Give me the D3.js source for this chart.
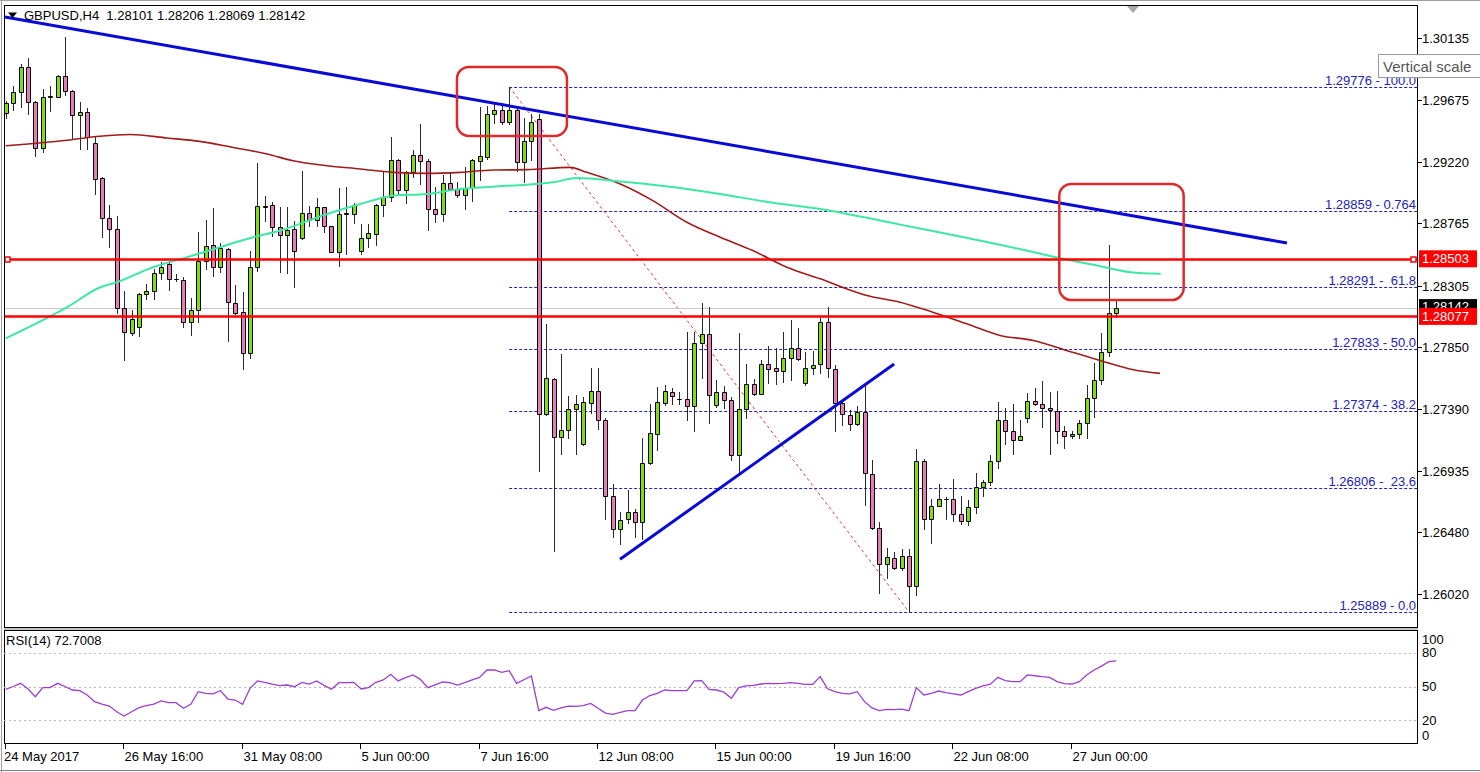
<!DOCTYPE html>
<html><head><meta charset="utf-8">
<script src="https://cdn.jsdelivr.net/npm/d3@7"></script>
<style>html,body{margin:0;padding:0;background:#fff;overflow:hidden}
svg{display:block;font-family:"Liberation Sans",Arial,sans-serif}</style>
</head><body><svg id="c" width="1480" height="772"></svg>
<script>
// ---------- DATA ----------
const open=[1.29579,1.29653,1.29739,1.29919,1.29660,1.29320,1.29702,1.29702,1.29857,1.29746,
1.29567,1.29591,1.29360,1.29098,1.28803,1.28724,1.28138,1.27953,1.28002,1.28239,
1.28268,1.28396,1.28461,1.28355,1.28348,1.28039,1.28126,1.28490,1.28608,1.28441,
1.28577,1.28178,1.28108,1.27808,1.28446,1.28889,1.28902,1.28741,1.28682,1.28724,
1.28658,1.28843,1.28791,1.28884,1.28744,1.28557,1.28838,1.28835,1.28564,1.28655,
1.28687,1.28902,1.28963,1.29236,1.29013,1.29143,1.29271,1.29229,1.28872,1.28835,
1.29064,1.29020,1.28976,1.29027,1.29229,1.29254,1.29574,1.29604,1.29512,1.29604,
1.29222,1.29372,1.29537,1.27357,1.27616,1.27184,1.27239,1.27394,1.27130,1.27436,
1.27524,1.27308,1.26746,1.26500,1.26581,1.26630,1.26556,1.26992,1.27210,1.27436,
1.27517,1.27468,1.27468,1.27411,1.27879,1.27943,1.27419,1.27517,1.27461,1.27049,
1.27394,1.27574,1.27505,1.27727,1.27697,1.27672,1.27771,1.27845,1.27583,1.27697,
1.27722,1.28034,1.27690,1.27436,1.27345,1.27278,1.27369,1.26914,1.26507,1.26241,
1.26290,1.26212,1.26303,1.26081,1.27005,1.26581,1.26674,1.26729,1.26724,1.26618,
1.26564,1.26663,1.26815,1.26852,1.27005,1.27308,1.27229,1.27165,1.27328,1.27450,
1.27426,1.27399,1.27377,1.27229,1.27192,1.27210,1.27288,1.27476,1.27609,1.27812,
1.28101];
const high=[1.29673,1.29783,1.29948,1.29988,1.29673,1.29763,1.29783,1.29860,1.30146,1.29750,
1.29660,1.29619,1.29401,1.29106,1.28902,1.28823,1.28268,1.28121,1.28250,1.28313,
1.28429,1.28478,1.28490,1.28392,1.28367,1.28212,1.28704,1.28793,1.28880,1.28618,
1.28585,1.28311,1.28256,1.28564,1.29209,1.28970,1.28921,1.28889,1.28889,1.28786,
1.29155,1.28897,1.28954,1.28890,1.28748,1.29027,1.29037,1.28914,1.28761,1.28761,
1.28906,1.29155,1.29406,1.29241,1.29155,1.29310,1.29500,1.29241,1.29032,1.29123,
1.29138,1.29069,1.29185,1.29240,1.29628,1.29636,1.29660,1.29653,1.29776,1.29636,
1.29545,1.29574,1.29574,1.28022,1.27623,1.27801,1.27485,1.27492,1.27480,1.27697,
1.27697,1.27328,1.26840,1.26630,1.26790,1.26655,1.27180,1.27431,1.27554,1.27566,
1.27550,1.27517,1.27960,1.27960,1.28175,1.28145,1.27603,1.27559,1.27480,1.27953,
1.27722,1.27616,1.27751,1.27855,1.27845,1.27960,1.28052,1.27993,1.27812,1.27821,
1.28065,1.28150,1.27714,1.27440,1.27382,1.27411,1.27559,1.27012,1.26556,1.26364,
1.26334,1.26352,1.26352,1.27099,1.27025,1.26729,1.26833,1.26742,1.26870,1.26746,
1.26716,1.26918,1.26864,1.27049,1.27443,1.27402,1.27431,1.27313,1.27510,1.27550,
1.27598,1.27517,1.27524,1.27266,1.27229,1.27308,1.27566,1.27731,1.27953,1.28608,
1.28206];
const low=[1.29547,1.29604,1.29623,1.29574,1.29266,1.29290,1.29599,1.29697,1.29717,1.29390,
1.29316,1.29316,1.28983,1.28662,1.28594,1.28101,1.27751,1.27936,1.27929,1.28207,
1.28207,1.28355,1.28274,1.28337,1.28002,1.27941,1.28039,1.28429,1.28379,1.28404,
1.27894,1.28098,1.27690,1.27771,1.28411,1.28786,1.28675,1.28404,1.28396,1.28298,
1.28651,1.28749,1.28749,1.28699,1.28550,1.28453,1.28540,1.28766,1.28540,1.28588,
1.28608,1.28823,1.28934,1.28983,1.28917,1.29106,1.29057,1.28717,1.28773,1.28786,
1.29012,1.28958,1.28872,1.28934,1.29087,1.29245,1.29505,1.29500,1.29500,1.29155,
1.29074,1.29234,1.26933,1.27350,1.26342,1.27062,1.27180,1.27062,1.27123,1.27362,
1.27246,1.26581,1.26441,1.26391,1.26544,1.26441,1.26426,1.26983,1.27086,1.27419,
1.27431,1.27431,1.27308,1.27229,1.27623,1.27288,1.27406,1.27401,1.27017,1.26914,
1.27328,1.27498,1.27500,1.27583,1.27574,1.27591,1.27603,1.27751,1.27566,1.27648,
1.27659,1.27628,1.27229,1.27271,1.27234,1.27271,1.26680,1.26500,1.26027,1.26138,
1.26205,1.26200,1.25889,1.26015,1.26500,1.26401,1.26670,1.26574,1.26564,1.26539,
1.26532,1.26623,1.26746,1.26827,1.26955,1.27136,1.27056,1.27160,1.27295,1.27419,
1.27258,1.27062,1.27140,1.27106,1.27180,1.27178,1.27180,1.27332,1.27579,1.27781,
1.28069];
const close=[1.29653,1.29739,1.29919,1.29660,1.29320,1.29697,1.29705,1.29857,1.29746,1.29567,
1.29591,1.29401,1.29094,1.28803,1.28724,1.28138,1.27960,1.28059,1.28244,1.28268,
1.28396,1.28441,1.28355,1.28352,1.28039,1.28126,1.28490,1.28601,1.28441,1.28581,
1.28182,1.28104,1.27808,1.28446,1.28897,1.28892,1.28739,1.28682,1.28719,1.28559,
1.28843,1.28793,1.28884,1.28744,1.28557,1.28835,1.28842,1.28902,1.28655,1.28692,
1.28904,1.28963,1.29236,1.29013,1.29143,1.29274,1.29229,1.28872,1.28835,1.29064,
1.29020,1.28976,1.29027,1.29234,1.29261,1.29574,1.29604,1.29512,1.29604,1.29222,
1.29372,1.29512,1.27357,1.27623,1.27184,1.27239,1.27394,1.27431,1.27443,1.27524,
1.27308,1.26746,1.26500,1.26569,1.26630,1.26556,1.26992,1.27214,1.27443,1.27524,
1.27485,1.27466,1.27411,1.27879,1.27943,1.27493,1.27517,1.27461,1.27049,1.27394,
1.27574,1.27505,1.27727,1.27690,1.27672,1.27771,1.27845,1.27764,1.27697,1.27718,
1.28034,1.27694,1.27436,1.27357,1.27278,1.27369,1.26918,1.26507,1.26241,1.26297,
1.26212,1.26303,1.26081,1.27005,1.26581,1.26674,1.26729,1.26726,1.26618,1.26564,
1.26663,1.26815,1.26852,1.27005,1.27313,1.27229,1.27165,1.27190,1.27450,1.27426,
1.27399,1.27382,1.27229,1.27192,1.27210,1.27288,1.27476,1.27609,1.27812,1.28101,
1.28142];
const rsi=[47.5,50,52.8,48,41,49,49,52.8,50,46.9,46.3,42.5,36.6,34.5,32.7,27.7,23.9,27.7,31.3,33,
34.5,37.2,35.7,35.7,30.7,34.2,45.4,44,43.4,46.3,38.9,38,34.2,48.4,54.9,53.7,52,50.7,51.3,49.8,
53.7,52.2,54.9,51,47.5,53.4,53.5,53.7,47.8,49,53.7,55.8,60.8,54.9,57.8,60.2,56.3,49,51.5,54,
53.4,51.3,53.4,55.8,58.1,64.6,64.6,62.5,64,52.8,56,59.3,28.6,31.6,28.9,31,32.7,32.5,33,35,
30.7,26.5,25.4,27.1,28.6,28.6,38,42,44,46.9,46.3,46.3,46.3,54.9,55.2,47.5,46.9,45,39.5,49,
50.5,51,52.2,52.8,52.5,52.8,53.5,52.8,51.9,51.9,58.7,48,45.4,44,43.4,45.4,36.6,31,28.6,29.8,
29.5,30,28.6,49,42.5,44,46,44.6,43.5,42.5,45.4,48.4,50.5,52,58.1,55.2,54.3,54.3,60.2,59.5,
58.7,58.1,54.3,52.5,52.2,54.3,60.2,64.6,68,72,72.7];
// moving averages (bar position, value) (shifted beyond last bar)
const maRedBar=[0,8.3,12.7,16.8,21.8,26.2,30.7,35.3,38.8,43.4,47.9,52.3,56.9,61.4,65.8,70.4,76.2,78.5,83,87.4,92,96.5,100.9,105.5,110,116.3,120.8,125.2,129.8,134.3,138.8,143.3,147.8,152.3,155.9];
const maRedVal=[1.29340,1.29381,1.29410,1.29423,1.29397,1.29372,1.29327,1.29279,1.29229,1.29192,1.29168,1.29143,1.29135,1.29143,1.29160,1.29163,1.29180,1.29143,1.29057,1.28934,1.28773,1.28662,1.28564,1.28441,1.28355,1.28232,1.28182,1.28108,1.28022,1.27936,1.27899,1.27825,1.27751,1.27682,1.27655];
const maGreenBar=[0,8.3,12.7,15,19.9,24.5,28.9,33.4,37.1,43.4,47.9,52.3,56.9,61.4,65.8,70.4,73.9,77.2,83,89.7,96.5,103.2,110,120.8,128.9,138.3,142.8,147.4,151.9,156];
const maGreenVal=[1.27914,1.28145,1.28291,1.28330,1.28441,1.28515,1.28588,1.28662,1.28712,1.28835,1.28909,1.28970,1.28983,1.29020,1.29037,1.29052,1.29069,1.29101,1.29076,1.29037,1.28983,1.28921,1.28872,1.28756,1.28668,1.28559,1.28503,1.28453,1.28404,1.28392];
const fibLevels=[1.29776,1.28859,1.28291,1.27833,1.27374,1.26806,1.25889];
const fibLabels=["1.29776 - 100.0","1.28859 - 0.764","1.28291 -  61.8","1.27833 - 50.0","1.27374 - 38.2","1.26806 -  23.6","1.25889 - 0.0"];
const fibStartBar=68, fibEndBar=122;
const priceTicks=[1.30135,1.29675,1.29220,1.28765,1.28305,1.27850,1.27390,1.26935,1.26480,1.26020];
const timeTickBars=[0,16,32,48,64,80,96,112,128,144];
const timeTickLabels=["24 May 2017","26 May 16:00","31 May 08:00","5 Jun 00:00","7 Jun 16:00","12 Jun 08:00","15 Jun 00:00","19 Jun 16:00","22 Jun 08:00","27 Jun 00:00"];
const rsiLevels=[80,50,20];
const rsiAxisLabels=[100,80,50,20,0];
const hLevels=[1.28503,1.28077];
const bidPrice=1.28142;
const trendDown=[[-0.1,1.30293],[173.05,1.28620]];
const trendUp=[[82.97,1.26279],[120.0,1.27724]];
const boxes=[[60.95,75.8,1.29923,1.29412],[142.3,159.1,1.29057,1.28198]];
const title="GBPUSD,H4  1.28101 1.28206 1.28069 1.28142";
const rsiTitle="RSI(14) 72.7008";

// ---------- LAYOUT ----------
const svg=d3.select("#c");
const L=4,R=1417,T=5,B=627,RT=630,RB=743;
const x=d3.scaleLinear().domain([0,150]).range([5.7,1116.3]);
const y=d3.scaleLinear().domain([1.26020,1.30135]).range([594.3,38.3]);
const ry=d3.scaleLinear().domain([0,100]).range([RB,RT]);
const UP="#80de0c",DN="#e67cb8";
const FIB="#2323b4";

const defs=svg.append("defs");
defs.append("clipPath").attr("id","mainClip").append("rect").attr("x",L).attr("y",T).attr("width",R-L).attr("height",B-T);
defs.append("clipPath").attr("id","rsiClip").append("rect").attr("x",L).attr("y",RT).attr("width",R-L).attr("height",RB-RT);

// window frame
svg.append("line").attr("x1",0).attr("x2",1480).attr("y1",0.5).attr("y2",0.5).attr("stroke","#a0a0a0");
svg.append("line").attr("x1",1.5).attr("x2",1.5).attr("y1",0).attr("y2",772).attr("stroke","#a0a0a0");
svg.append("line").attr("x1",0).attr("x2",1480).attr("y1",770.5).attr("y2",770.5).attr("stroke","#808080");

const main=svg.append("g").attr("clip-path","url(#mainClip)");

// fib lines
main.selectAll(".fib").data(fibLevels).enter().append("line")
 .attr("x1",x(fibStartBar)).attr("x2",R).attr("y1",d=>Math.round(y(d))+0.5).attr("y2",d=>Math.round(y(d))+0.5)
 .attr("stroke",FIB).attr("stroke-width",1).attr("stroke-dasharray","3,2");
// fib diagonal
main.append("line").attr("x1",x(fibStartBar)).attr("y1",y(high[fibStartBar])).attr("x2",x(fibEndBar)).attr("y2",y(low[fibEndBar]))
 .attr("stroke","#e03a3a").attr("stroke-width",1).attr("stroke-dasharray","3,3");
// bid line
main.append("line").attr("x1",L).attr("x2",R).attr("y1",Math.round(y(bidPrice))+0.5).attr("y2",Math.round(y(bidPrice))+0.5).attr("stroke","#c8c8c8");

// candles
const cg=main.append("g");
d3.range(open.length).forEach(i=>{
  const cx=Math.round(x(i));
  cg.append("line").attr("x1",cx+0.5).attr("x2",cx+0.5).attr("y1",Math.round(y(high[i]))).attr("y2",Math.round(y(low[i]))+1).attr("stroke","#2a2a2a");
  const top=Math.round(y(Math.max(open[i],close[i]))), bot=Math.round(y(Math.min(open[i],close[i])));
  const up=close[i]>=open[i];
  cg.append("path").attr("d",`M${cx-1.5},${top+0.5}h4v${Math.max(bot-top,0)}h-4Z`)
   .attr("fill",up?UP:DN).attr("stroke","#000").attr("stroke-width",1);
});

// moving averages
const lineMA=d3.line().x(d=>x(d[0])).y(d=>y(d[1])).curve(d3.curveMonotoneX);
main.append("path").attr("d",lineMA(maRedBar.map((b,i)=>[b,maRedVal[i]]))).attr("fill","none").attr("stroke","#a01c1c").attr("stroke-width",1.6);
main.append("path").attr("d",lineMA(maGreenBar.map((b,i)=>[b,maGreenVal[i]]))).attr("fill","none").attr("stroke","#3ee8a2").attr("stroke-width",2);

// horizontal red levels
hLevels.forEach((p,k)=>{
  const yy=Math.round(y(p))+0.5;
  main.append("line").attr("x1",L).attr("x2",R).attr("y1",yy).attr("y2",yy).attr("stroke","#ff0000").attr("stroke-width",2.5);
});
main.append("rect").attr("x",5).attr("y",Math.round(y(hLevels[0]))-2).attr("width",5).attr("height",5).attr("fill","#fff").attr("stroke","#ff0000").attr("stroke-width",1.5);
main.append("rect").attr("x",1411).attr("y",Math.round(y(hLevels[0]))-2).attr("width",5).attr("height",5).attr("fill","#fff").attr("stroke","#ff0000").attr("stroke-width",1.5);

// trend lines
[trendDown,trendUp].forEach(t=>{
  main.append("line").attr("x1",x(t[0][0])).attr("y1",y(t[0][1])).attr("x2",x(t[1][0])).attr("y2",y(t[1][1]))
   .attr("stroke","#0a0ad6").attr("stroke-width",3);
});
// red boxes
boxes.forEach(b=>{
  main.append("rect").attr("x",x(b[0])).attr("y",y(b[2])).attr("width",x(b[1])-x(b[0])).attr("height",y(b[3])-y(b[2]))
   .attr("rx",12).attr("fill","none").attr("stroke","#dd2a2a").attr("stroke-width",2.5);
});

// fib labels
main.selectAll(".fibl").data(fibLevels).enter().append("text")
 .attr("x",R-1).attr("y",d=>Math.round(y(d))-2).attr("text-anchor","end")
 .attr("font-size",13).attr("fill",FIB).style("white-space","pre").attr("xml:space","preserve")
 .text((d,i)=>fibLabels[i]);

// frames
svg.append("rect").attr("x",L+0.5).attr("y",T+0.5).attr("width",R-L).attr("height",B-T).attr("fill","none").attr("stroke","#000");
svg.append("rect").attr("x",L+0.5).attr("y",RT+0.5).attr("width",R-L).attr("height",RB-RT).attr("fill","none").attr("stroke","#000");
svg.append("line").attr("x1",L).attr("x2",R+1).attr("y1",B+2).attr("y2",B+2).attr("stroke","#888");

// title
svg.append("path").attr("d","M8,12.5h9l-4.5,5.5Z").attr("fill","#000");
svg.append("text").attr("x",24).attr("y",20).attr("font-size",13).attr("fill","#000").attr("xml:space","preserve").style("white-space","pre").text(title);
// chart shift marker
svg.append("path").attr("d","M1127,6h12l-6,7Z").attr("fill","#a8a8a8");

// price axis
const pa=svg.append("g");
priceTicks.forEach(p=>{
  const yy=Math.round(y(p))+0.5;
  pa.append("line").attr("x1",R+0.5).attr("x2",R+5).attr("y1",yy).attr("y2",yy).attr("stroke","#000");
  pa.append("text").attr("x",1422).attr("y",yy).attr("dy","0.35em").attr("font-size",13).attr("fill","#000").text(p.toFixed(5));
});
// bid tag (partly hidden under the level tag, as in MT4)
const by=y(bidPrice);
pa.append("rect").attr("x",R+2).attr("y",by-8.5).attr("width",58).attr("height",17).attr("fill","#000");
pa.append("text").attr("x",1422).attr("y",by-1).attr("dy","0.35em").attr("font-size",13).attr("fill","#fff").text(bidPrice.toFixed(5));
hLevels.forEach(p=>{
  const yy=y(p);
  pa.append("rect").attr("x",R+2).attr("y",yy-8.5).attr("width",58).attr("height",17).attr("fill","#ff0000");
  pa.append("text").attr("x",1422).attr("y",yy).attr("dy","0.35em").attr("font-size",13).attr("fill","#fff").text(p.toFixed(5));
});

// tooltip
svg.append("rect").attr("x",1378.5).attr("y",54.5).attr("width",110).attr("height",23).attr("fill","#fff").attr("stroke","#9a9a9a");
svg.append("text").attr("x",1383).attr("y",72).attr("font-size",15).attr("fill","#555").text("Vertical scale");

// RSI panel
const rp=svg.append("g").attr("clip-path","url(#rsiClip)");
rsiLevels.forEach(v=>{
  rp.append("line").attr("x1",L).attr("x2",R).attr("y1",Math.round(ry(v))+0.5).attr("y2",Math.round(ry(v))+0.5)
   .attr("stroke","#b8b8b8").attr("stroke-dasharray","2,3");
});
rp.append("path").attr("d",d3.line().x((d,i)=>x(i)).y(d=>ry(d))(rsi)).attr("fill","none").attr("stroke","#9a3fcf").attr("stroke-width",1.3);
svg.append("text").attr("x",6).attr("y",645).attr("font-size",13).attr("fill","#000").text(rsiTitle);
rsiAxisLabels.forEach(v=>{
  let yy=ry(v); if(v===100) yy+=9; if(v===0) yy-=8;
  svg.append("text").attr("x",1422).attr("y",yy).attr("dy","0.35em").attr("font-size",13).attr("fill","#000").text(v);
});

// time axis
timeTickBars.forEach((b,i)=>{
  const xx=Math.round(x(b))-0.5;
  svg.append("line").attr("x1",xx).attr("x2",xx).attr("y1",RB+1).attr("y2",RB+6).attr("stroke","#000");
  svg.append("text").attr("x",i===0?4:xx+1).attr("y",761).attr("font-size",13).attr("fill","#000").text(timeTickLabels[i]);
});
</script></body></html>
